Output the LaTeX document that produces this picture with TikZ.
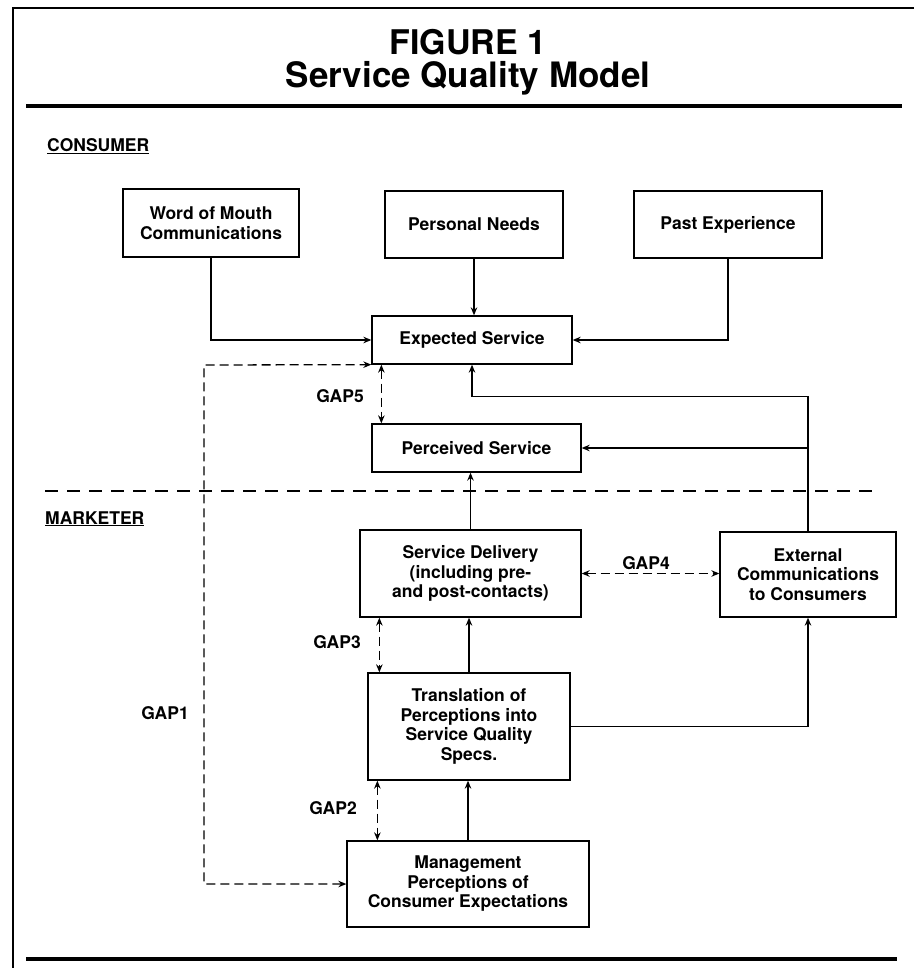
\documentclass[tikz,border=0pt]{standalone}
\usepackage{fontspec}
\setmainfont{TeX Gyre Heros}
\usetikzlibrary{arrows.meta, calc}

\begin{document}
\begin{tikzpicture}[x=1pt,y=-1pt,>={Stealth[length=8pt,width=6.5pt]},
  box/.style={draw,line width=1.3pt,align=center,inner sep=0pt,
    font=\fontsize{17.5}{19.5}\selectfont\bfseries},
  gaplabel/.style={font=\fontsize{17.5}{19.5}\selectfont\bfseries},
  gapline/.style={<->,line width=1.3pt,dash pattern=on 9pt off 5pt},
  link/.style={->,line width=1.3pt},
  rule/.style={line width=3.2pt}]

\useasboundingbox (0,0) rectangle (914,968);

% --- Cornice e titolo
\draw[line width=2.5pt] (914,8) -- (13,8) -- (13,968);
\node[font=\fontsize{34}{38}\selectfont\bfseries,anchor=base] (title) at (468,55) {FIGURE 1};
\node[font=\fontsize{35}{38}\selectfont\bfseries,anchor=base] (subtitle) at (468,88) {Service Quality Model};
\draw[rule] (26,106) -- (902,106);
\draw[rule] (26,959) -- (897,959);

% --- Etichette delle zone
\node[gaplabel,anchor=base west,inner sep=0pt] (consumer) at (47,152) {\underline{CONSUMER}};
\node[gaplabel,anchor=base west,inner sep=0pt] (marketer) at (45,524) {\underline{MARKETER}};
\draw[line width=1.3pt,dash pattern=on 13pt off 9pt] (45,491) -- (880,491);

% --- Riquadri
\node[box,minimum width=176pt,minimum height=68pt] (wom) at (211,223) {Word of Mouth\\Communications};
\node[box,minimum width=178pt,minimum height=67pt] (needs) at (474,224.5) {Personal Needs};
\node[box,minimum width=188pt,minimum height=67pt] (past) at (728,224.5) {Past Experience};
\node[box,minimum width=200pt,minimum height=48pt] (expected) at (472,340) {Expected Service};
\node[box,minimum width=209pt,minimum height=48pt] (perceived) at (476.5,448) {Perceived Service};
\node[box,minimum width=221pt,minimum height=87pt] (delivery) at (470.5,573.5) {Service Delivery\\(including pre-\\and post-contacts)};
\node[box,minimum width=176pt,minimum height=85pt] (external) at (808,574.5) {External\\Communications\\to Consumers};
\node[box,minimum width=202pt,minimum height=107pt] (translation) at (469,726.5) {Translation of\\Perceptions into\\Service Quality\\Specs.};
\node[box,minimum width=242pt,minimum height=86pt] (mgmt) at (468,884) {Management\\Perceptions of\\Consumer Expectations};

% --- Collegamenti pieni
\draw[link] (wom.south) |- (expected.west);
\draw[link] (needs.south) -- (needs.south |- expected.north);
\draw[link] (past.south) |- (expected.east);
\coordinate (feedback) at ($(external.north)+(0,-135)$);
\draw[link] (external.north) -- (feedback) -| (expected.south);
\draw[link] (external.north |- perceived.east) -- (perceived.east);
\draw[link] (delivery.north) -- (delivery.north |- perceived.south);
\draw[link] (translation.north) -- (translation.north |- delivery.south);
\draw[link] (translation.east) -| (external.south);
\draw[link] (mgmt.north) -- (mgmt.north |- translation.south);

% --- Gap tratteggiati
\coordinate (gfive) at ($(expected.south west)+(10,0)$);
\draw[gapline] (gfive) -- (gfive |- perceived.north);
\node[gaplabel] (gapfive) at (340,396) {GAP5};

\draw[gapline] (delivery.east) -- (delivery.east -| external.west);
\node[gaplabel] (gapfour) at (646,563) {GAP4};

\coordinate (gthree) at ($(delivery.south west)+(20,0)$);
\draw[gapline] (gthree) -- (gthree |- translation.north);
\node[gaplabel] (gapthree) at (337,642) {GAP3};

\coordinate (gtwo) at ($(translation.south west)+(10,0)$);
\draw[gapline] (gtwo) -- (gtwo |- mgmt.north);
\node[gaplabel] (gaptwo) at (333,808) {GAP2};

\coordinate (gone) at (204,365);
\draw[gapline] (mgmt.west) -| (gone) -- (expected.south west);
\node[gaplabel] (gapone) at (165,713) {GAP1};

\end{tikzpicture}
\end{document}
